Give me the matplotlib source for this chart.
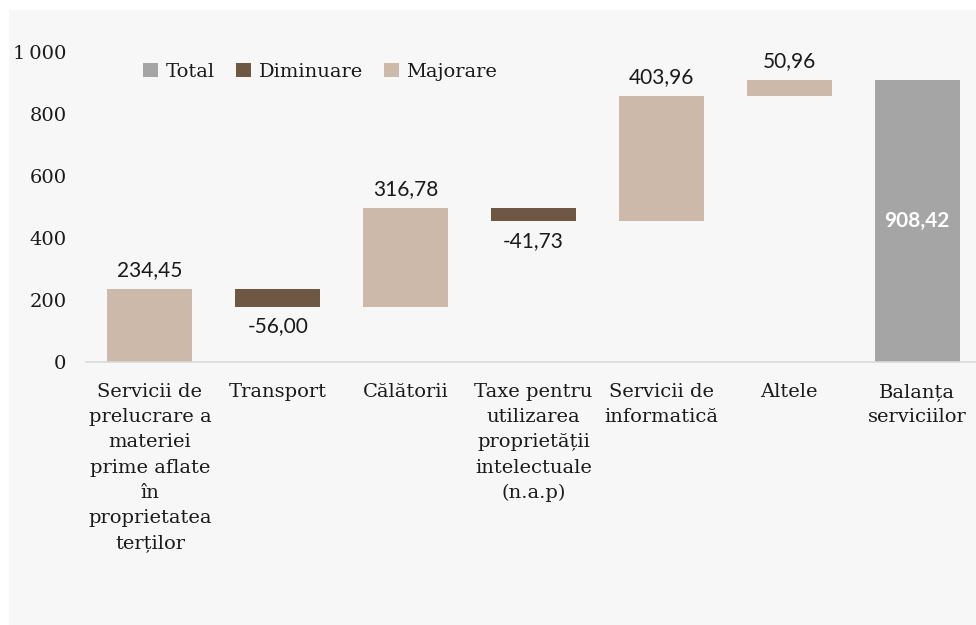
import matplotlib
matplotlib.use("Agg")
import matplotlib.pyplot as plt
from matplotlib.patches import Rectangle, Patch

categories = [
    "Servicii de\nprelucrare a\nmateriei\nprime aflate\nîn\nproprietatea\nterților",
    "Transport",
    "Călătorii",
    "Taxe pentru\nutilizarea\nproprietății\nintelectuale\n(n.a.p)",
    "Servicii de\ninformatică",
    "Altele",
    "Balanța\nserviciilor",
]
changes = [234.45, -56.00, 316.78, -41.73, 403.96, 50.96]
total_value = 908.42
value_labels = ["234,45", "-56,00", "316,78", "-41,73", "403,96", "50,96", "908,42"]
y_ticks = [0, 200, 400, 600, 800, 1000]
y_tick_labels = ["0", "200", "400", "600", "800", "1\u2009000"]
legend_labels = ["Total", "Diminuare", "Majorare"]

c_total = "#a5a5a5"
c_dec = "#6f5843"
c_inc = "#cdb9a9"
serif = ["DejaVu Serif"]
sans = ["Lato", "DejaVu Sans"]

W, H = 976, 625
fig = plt.figure(figsize=(W / 100, H / 100), dpi=100, facecolor="white")
fig.patches.append(Rectangle((9 / W, 0), 1 - 9 / W, (H - 10) / H,
                             transform=fig.transFigure, facecolor="#f7f7f7",
                             edgecolor="none", zorder=-10))

left, right = 86, 981
bottom_px, top_px = 362, 52
ax = fig.add_axes([left / W, (H - bottom_px) / H, (right - left) / W,
                   (bottom_px - top_px) / H])
ax.set_facecolor("none")

bw = 0.665
running = 0.0
for i, ch in enumerate(changes):
    start = running
    end = running + ch
    color = c_inc if ch >= 0 else c_dec
    ax.bar(i, end - start, bottom=start, width=bw, color=color, zorder=2)
    off = 14 if ch >= 0 else -14
    ax.annotate(value_labels[i], (i, end), xytext=(0, off), textcoords="offset points",
                ha="center", va="center", fontsize=15, family=sans,
                color="#1a1a1a", annotation_clip=False)
    running = end

n = len(changes)
ax.bar(n, total_value, width=bw, color=c_total, zorder=2)
ax.text(n, total_value / 2, value_labels[-1], ha="center", va="center",
        fontsize=15, family=sans, color="white", fontweight="bold")

ax.set_xlim(-0.5, 6.5)
ax.set_ylim(0, 1000)
ax.set_yticks(y_ticks)
ax.set_yticklabels(y_tick_labels, family=serif, fontsize=14, color="#1a1a1a")
ax.set_xticks(range(len(categories)))
ax.set_xticklabels(categories, family=serif, fontsize=14, color="#1a1a1a",
                   linespacing=1.52, va="top")
ax.tick_params(axis="y", length=0, pad=14)
ax.tick_params(axis="x", length=0, pad=15)
for s in ["left", "right", "top"]:
    ax.spines[s].set_visible(False)
ax.spines["bottom"].set_color("#d9d9d9")
ax.spines["bottom"].set_linewidth(1.2)

handles = [Patch(facecolor=c_total), Patch(facecolor=c_dec), Patch(facecolor=c_inc)]
leg = ax.legend(handles, legend_labels, loc="center left", bbox_to_anchor=(0.064, 0.935),
                ncol=3, frameon=False, borderaxespad=0, borderpad=0,
                handlelength=0.75, handleheight=0.75, handletextpad=0.4,
                columnspacing=1.1, prop={"family": serif, "size": 14})
for t in leg.get_texts():
    t.set_color("#1a1a1a")

fig.savefig("out.png", dpi=100, facecolor=fig.get_facecolor())
